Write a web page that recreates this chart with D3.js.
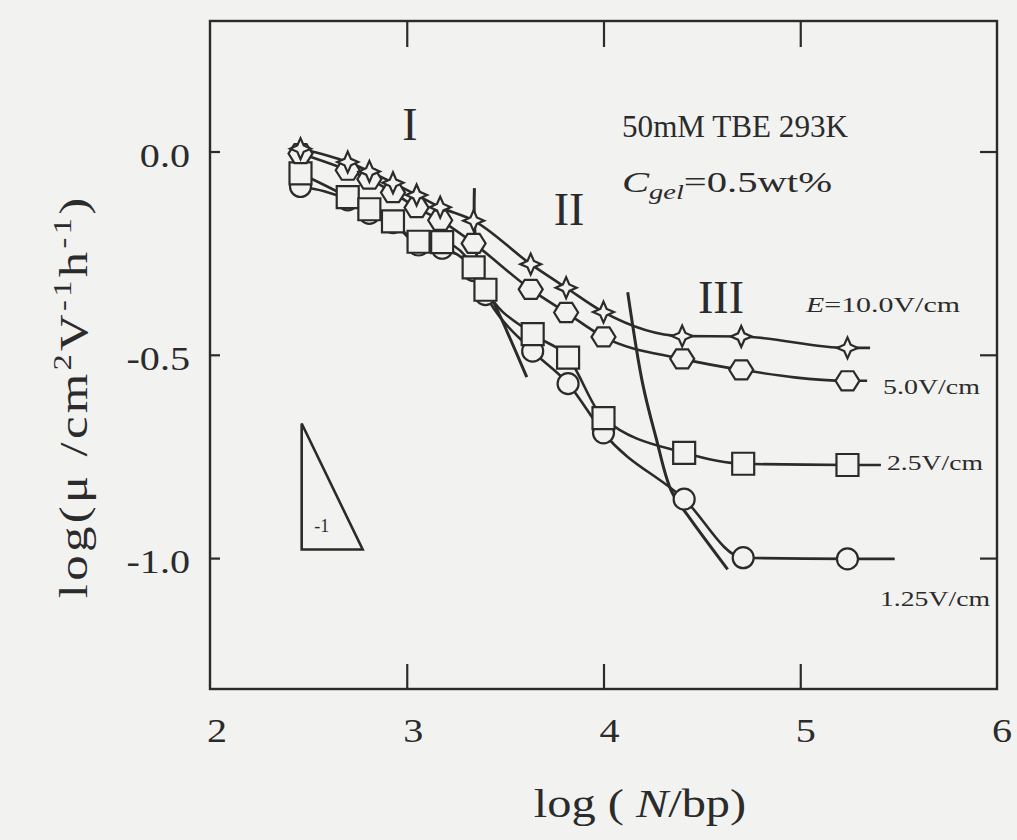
<!DOCTYPE html>
<html>
<head>
<meta charset="utf-8">
<script src="https://cdn.jsdelivr.net/npm/d3@7"></script>
<style>
  html, body { margin: 0; padding: 0; background: #f2f2f0; }
  svg { display: block; }
  text { font-family: "Liberation Serif", "Times New Roman", serif; fill: #2b2b2b; }
</style>
</head>
<body>
<svg id="chart" width="1017" height="840"></svg>
<script>
// log10 of DNA size (bp) for each measured fragment
const sizeLog = [2.46, 2.70, 2.81, 2.93, 3.05, 3.17, 3.34, 3.63, 3.81, 4.00, 4.40, 4.70, 5.24];
const sizeLogLow = [2.46, 2.70, 2.81, 2.93, 3.06, 3.18, 3.34, 3.40, 3.64, 3.82, 4.00, 4.41, 4.71, 5.24];

// log10 mobility (cm^2 V^-1 h^-1) at each field strength
const mob100 = [0.007, -0.026, -0.049, -0.077, -0.107, -0.137, -0.170, -0.277, -0.335, -0.395, -0.454, -0.455, -0.483];
const mob50  = [-0.005, -0.046, -0.068, -0.101, -0.138, -0.169, -0.226, -0.339, -0.396, -0.456, -0.510, -0.537, -0.564];
const mob25  = [-0.054, -0.112, -0.142, -0.172, -0.222, -0.223, -0.285, -0.340, -0.449, -0.507, -0.656, -0.741, -0.768, -0.771];
const mob125 = [-0.086, -0.119, -0.152, -0.175, -0.230, -0.238, -0.293, -0.352, -0.491, -0.571, -0.692, -0.855, -0.999, -1.002];

// where each guide curve runs out past the last fragment
const tailLog = [5.355, 5.34, 5.41, 5.48];

// regime boundaries I|II and II|III
const bound1X = [3.344, 3.344, 3.367, 3.441, 3.511, 3.610];
const bound1Y = [-0.090, -0.170, -0.288, -0.369, -0.444, -0.555];
const bound2X = [4.123, 4.199, 4.267, 4.345, 4.431, 4.631];
const bound2Y = [-0.346, -0.571, -0.704, -0.835, -0.897, -1.028];

// slope -1 reference triangle (corner and leg length in axis units)
const triCorner = [2.466, -0.979];
const triLeg = 0.31;

const xTicks = [2, 3, 4, 5, 6];
const yTicks = [0, -0.5, -1.0];
const yTickLabels = ["0.0", "-0.5", "-1.0"];

const INK = "#2b2b2b";
const BG = "#f2f2f0";

const svg = d3.select("#chart");
const W = 1017, H = 840;
const plot = { left: 210, right: 997, top: 21, bottom: 689 };

const x = d3.scaleLinear().domain([2, 6]).range([plot.left, plot.right]);
const y = d3.scaleLinear().domain([-1.322, 0.321]).range([plot.bottom, plot.top]);
// tick numerals sit a little right of their ticks
const xLabel = d3.scaleLinear().domain([2, 6]).range([217, 1002]);

svg.append("rect").attr("width", W).attr("height", H).attr("fill", BG);

// frame
svg.append("rect")
  .attr("x", plot.left).attr("y", plot.top)
  .attr("width", plot.right - plot.left).attr("height", plot.bottom - plot.top)
  .attr("fill", "none").attr("stroke", INK).attr("stroke-width", 2.4);

// inward ticks
function styleAxis(g) {
  g.select(".domain").remove();
  g.selectAll(".tick line").attr("stroke", INK).attr("stroke-width", 2.2);
  g.selectAll(".tick text").remove();
}
svg.append("g").attr("transform", `translate(0,${plot.bottom})`)
  .call(d3.axisBottom(x).tickValues([3, 4, 5]).tickSize(-25)).call(styleAxis);
svg.append("g").attr("transform", `translate(0,${plot.top})`)
  .call(d3.axisTop(x).tickValues([3, 4, 5]).tickSize(-26)).call(styleAxis);
svg.append("g").attr("transform", `translate(${plot.left},0)`)
  .call(d3.axisLeft(y).tickValues(yTicks).tickSize(-10)).call(styleAxis);
svg.append("g").attr("transform", `translate(${plot.right},0)`)
  .call(d3.axisRight(y).tickValues(yTicks).tickSize(-17)).call(styleAxis);

// tick labels (slightly wide serif face)
const SX = 1.18;
function wideText(sel, px, py, anchor) {
  return sel.attr("transform", `translate(${px},${py}) scale(${SX},1)`).attr("text-anchor", anchor);
}
svg.append("g").selectAll("text").data(xTicks).join("text")
  .each(function(d) { wideText(d3.select(this), xLabel(d), 742, "middle"); })
  .attr("font-size", 34).text(d => d);
svg.append("g").selectAll("text").data(yTicks).join("text")
  .each(function(d) { wideText(d3.select(this), 190, y(d) + 15, "end"); })
  .attr("font-size", 34).text((d, i) => yTickLabels[i]);

// axis titles
const xt = svg.append("text").attr("font-size", 41);
wideText(xt, 640, 817, "middle");
xt.append("tspan").text("log ( ");
xt.append("tspan").attr("font-style", "italic").text("N");
xt.append("tspan").text("/bp)");

const yt = svg.append("text").attr("font-size", 39)
  .attr("transform", `translate(87,398) rotate(-90) scale(1.3,1)`).attr("text-anchor", "middle")
  .attr("textLength", 308).attr("lengthAdjust", "spacing");
yt.append("tspan").text("log(μ /cm");
yt.append("tspan").attr("font-size", 25).attr("dy", -16).text("2");
yt.append("tspan").attr("dy", 16).text("V");
yt.append("tspan").attr("font-size", 25).attr("dy", -16).text("-1");
yt.append("tspan").attr("dy", 16).text("h");
yt.append("tspan").attr("font-size", 25).attr("dy", -16).text("-1");
yt.append("tspan").attr("dy", 16).text(")");

// guide curves through each series
const series = [
  { xs: sizeLogLow, ys: mob125, tail: tailLog[3], shape: "circle" },
  { xs: sizeLogLow, ys: mob25,  tail: tailLog[2], shape: "square" },
  { xs: sizeLog,    ys: mob50,  tail: tailLog[1], shape: "hexagon" },
  { xs: sizeLog,    ys: mob100, tail: tailLog[0], shape: "star" }
];

const line = d3.line().x(d => x(d[0])).y(d => y(d[1])).curve(d3.curveMonotoneX);
const curves = svg.append("g").attr("fill", "none").attr("stroke", INK).attr("stroke-width", 2.6);
series.forEach(s => {
  const pts = s.xs.map((v, i) => [v, s.ys[i]]);
  pts.push([s.tail, s.ys[s.ys.length - 1]]);
  curves.append("path").attr("d", line(pts));
});

// regime boundaries
const bline = d3.line().x(d => x(d[0])).y(d => y(d[1])).curve(d3.curveCatmullRom.alpha(0.5));
curves.append("path").attr("d", bline(bound1X.map((v, i) => [v, bound1Y[i]]))).attr("stroke-width", 3);
curves.append("path").attr("d", bline(bound2X.map((v, i) => [v, bound2Y[i]]))).attr("stroke-width", 3);

// slope triangle
const tri = [[triCorner[0], triCorner[1] + triLeg], [triCorner[0], triCorner[1]], [triCorner[0] + triLeg, triCorner[1]]];
svg.append("path")
  .attr("d", d3.line().x(d => x(d[0])).y(d => y(d[1]))(tri) + "Z")
  .attr("fill", "none").attr("stroke", INK).attr("stroke-width", 2.6).attr("stroke-linejoin", "miter");
svg.append("text").attr("font-size", 18)
  .attr("x", x(triCorner[0]) + 20).attr("y", y(triCorner[1]) - 18).attr("text-anchor", "middle").text("-1");

// marker outlines
function markerPath(shape) {
  if (shape === "circle") return d3.symbol(d3.symbolCircle, Math.PI * 10.5 * 10.5)();
  if (shape === "square") return "M-11,-11H11V11H-11Z";
  if (shape === "hexagon") {
    const r = 12;
    return d3.range(6).map((k, i) => {
      const a = k * Math.PI / 3;
      return (i ? "L" : "M") + (r * Math.cos(a)).toFixed(2) + "," + (r * Math.sin(a) * 0.92).toFixed(2);
    }).join("") + "Z";
  }
  // four-point star
  const o = 10.5, n = 3.2;
  return `M0,${-o}L${n},${-n}L${o},0L${n},${n}L0,${o}L${-n},${n}L${-o},0L${-n},${-n}Z`;
}
series.forEach(s => {
  svg.append("g").selectAll("path").data(s.xs.map((v, i) => [v, s.ys[i]])).join("path")
    .attr("transform", d => `translate(${x(d[0])},${y(d[1])})`)
    .attr("d", markerPath(s.shape))
    .attr("fill", BG).attr("stroke", INK).attr("stroke-width", 2.2).attr("stroke-linejoin", "miter");
});

// regime numerals
[["I", 410, 140], ["II", 569, 225], ["III", 721, 313]].forEach(([t, px, py]) => {
  svg.append("text").attr("x", px).attr("y", py).attr("text-anchor", "middle")
    .attr("font-size", 46).text(t);
});

// run conditions
svg.append("text").attr("x", 622).attr("y", 137).attr("font-size", 31)
  .attr("textLength", 226).attr("lengthAdjust", "spacingAndGlyphs").text("50mM TBE 293K");
const cg = svg.append("text").attr("x", 622).attr("y", 192).attr("font-size", 30)
  .attr("textLength", 210).attr("lengthAdjust", "spacingAndGlyphs");
cg.append("tspan").attr("font-style", "italic").text("C");
cg.append("tspan").attr("font-style", "italic").attr("font-size", 21).attr("dy", 7).text("gel");
cg.append("tspan").attr("dy", -7).text("=0.5wt%");

// field strength labels
function fieldLabel(px, py, len, parts) {
  const t = svg.append("text").attr("x", px).attr("y", py).attr("font-size", 21)
    .attr("textLength", len).attr("lengthAdjust", "spacingAndGlyphs");
  parts.forEach(([s, it]) => t.append("tspan").attr("font-style", it ? "italic" : null).text(s));
}
fieldLabel(806, 312, 154, [["E", true], ["=10.0V/cm", false]]);
fieldLabel(883, 394, 97, [["5.0V/cm", false]]);
fieldLabel(887, 470, 96, [["2.5V/cm", false]]);
fieldLabel(880, 606, 110, [["1.25V/cm", false]]);
</script>
</body>
</html>
